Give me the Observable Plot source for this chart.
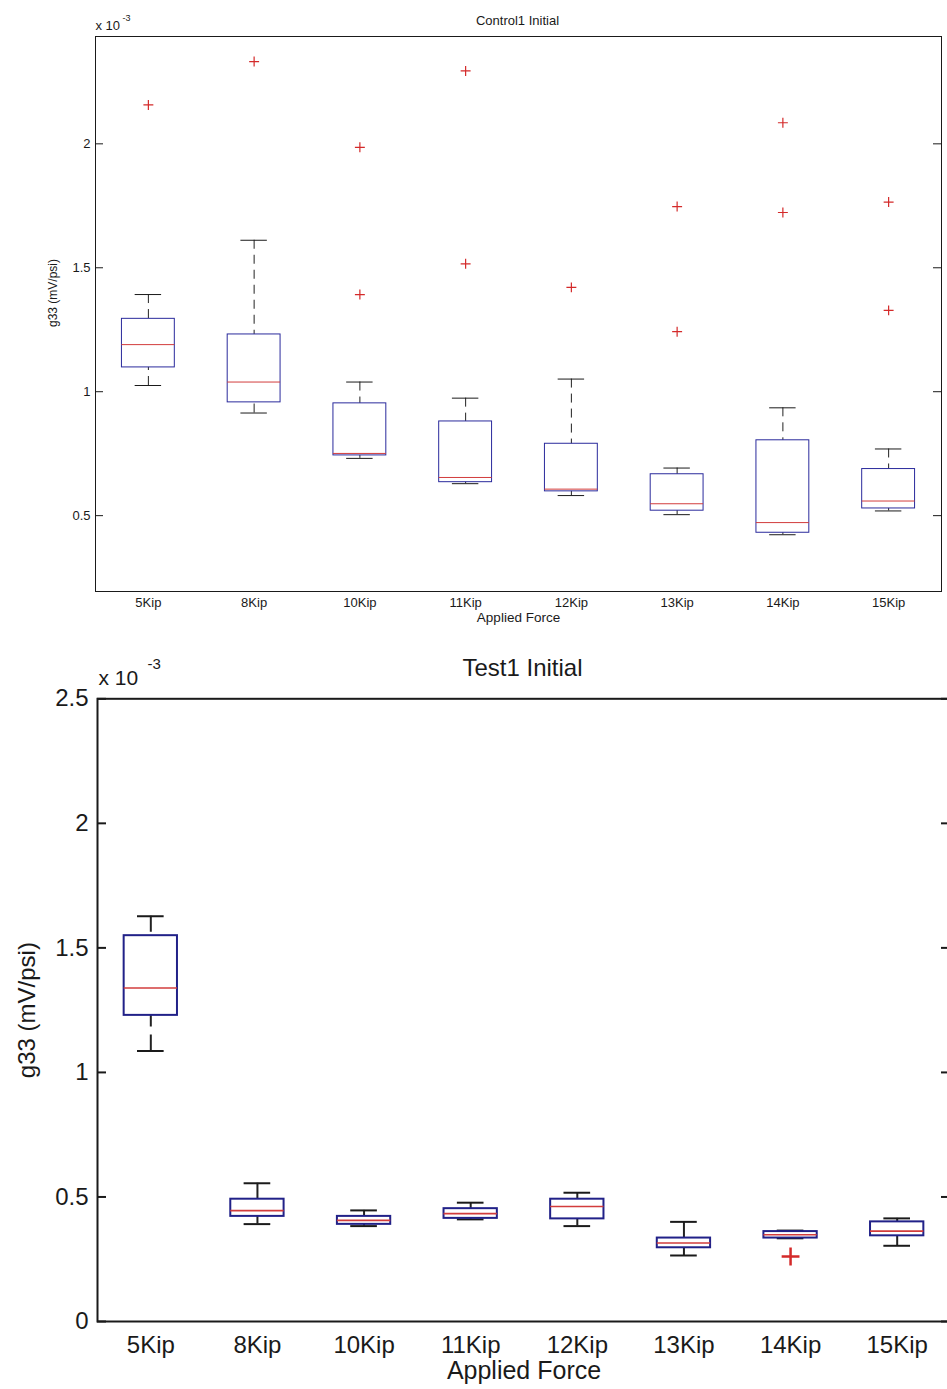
<!DOCTYPE html>
<html>
<head>
<meta charset="utf-8">
<script src="https://cdn.jsdelivr.net/npm/d3@7"></script>
<script src="https://cdn.jsdelivr.net/npm/@observablehq/plot@0.6"></script>
<style>
  html, body { margin: 0; padding: 0; background: #fff; overflow: hidden; width: 947px; height: 1389px; }
  #page { position: relative; width: 960px; height: 1389px; }
  .panel { position: absolute; left: 0; width: 960px; }
</style>
</head>
<body>
<div id="page">
  <div id="control" class="panel" style="top:0"></div>
  <div id="test" class="panel" style="top:630px"></div>
</div>
<script>
// Load steps shared by both panels
const categories = ["5Kip", "8Kip", "10Kip", "11Kip", "12Kip", "13Kip", "14Kip", "15Kip"];

// Control1 Initial — g33 in units of 1e-3 mV/psi
const controlLower   = [1.025, 0.914, 0.731, 0.629, 0.581, 0.504, 0.423, 0.519];
const controlQ1      = [1.098, 0.957, 0.743, 0.635, 0.598, 0.520, 0.431, 0.529];
const controlMedian  = [1.190, 1.039, 0.751, 0.654, 0.607, 0.548, 0.472, 0.559];
const controlQ3      = [1.294, 1.231, 0.953, 0.880, 0.790, 0.667, 0.804, 0.688];
const controlUpper   = [1.392, 1.611, 1.039, 0.974, 1.051, 0.692, 0.935, 0.769];
const controlOutliers = [[2.157], [2.332], [1.986, 1.392], [2.294, 1.516], [1.421], [1.747, 1.242], [2.085, 1.723], [1.765, 1.328]];
const controlTicks = [0.5, 1, 1.5, 2];

// Test1 Initial — g33 in units of 1e-3 mV/psi
const testLower   = [1.086, 0.391, 0.383, 0.410, 0.383, 0.265, 0.334, 0.304];
const testQ1      = [1.229, 0.422, 0.390, 0.414, 0.412, 0.296, 0.335, 0.344];
const testMedian  = [1.339, 0.445, 0.406, 0.433, 0.462, 0.315, 0.348, 0.363];
const testQ3      = [1.549, 0.491, 0.422, 0.453, 0.491, 0.335, 0.361, 0.400];
const testUpper   = [1.627, 0.555, 0.446, 0.477, 0.517, 0.400, 0.365, 0.414];
const testOutliers = [[], [], [], [], [], [], [0.261], []];
const testTicks = [0, 0.5, 1, 1.5, 2, 2.5];

const BOX_HALF = 0.25;   // half box width, in category units
const CAP_HALF = 0.125;  // half whisker-cap width

function boxPanel(cfg) {
  const {title, lower, q1, median, q3, upper, outliers, yDomain, yTicks, width, height, m, s} = cfg;
  const rows = categories.map((c, i) => ({
    cat: c, pos: i + 1, lo: lower[i], q1: q1[i], med: median[i], q3: q3[i], hi: upper[i]
  }));
  const outs = outliers.flatMap((vals, i) => vals.map(v => ({pos: i + 1, v})));
  const plotW = width - m.left - m.right;
  const label = (txt, opts) => Plot.text([txt], {text: d => d, fill: "#1a1a1a", lineAnchor: "middle", ...opts});

  return Plot.plot({
    width, height,
    marginLeft: m.left, marginRight: m.right, marginTop: m.top, marginBottom: m.bottom,
    x: {domain: [0.5, 8.5]},
    y: {domain: yDomain},
    style: {fontFamily: "'Liberation Sans', Arial, sans-serif", color: "#1a1a1a", background: "transparent", overflow: "visible"},
    marks: [
      Plot.frame({stroke: "#1a1a1a", strokeWidth: s.frame}),
      // inward tick marks on both vertical edges
      Plot.tickY(yTicks, {y: d => d, insetRight: plotW - s.tick, stroke: "#1a1a1a", strokeWidth: s.frame}),
      Plot.tickY(yTicks, {y: d => d, insetLeft: plotW - s.tick, stroke: "#1a1a1a", strokeWidth: s.frame}),
      Plot.axisY({ticks: yTicks, tickSize: 0, tickPadding: s.yPad, tickFormat: d => String(d), fontSize: s.tickFont, label: null}),
      Plot.axisX({ticks: d3.range(1, categories.length + 1), tickSize: 0, tickPadding: s.xPad,
                  tickFormat: i => categories[i - 1], fontSize: s.tickFont, label: null}),
      // whiskers
      Plot.ruleX(rows, {x: "pos", y1: "hi", y2: "q3", stroke: "#222", strokeWidth: s.whisker, strokeDasharray: s.dash}),
      Plot.ruleX(rows, {x: "pos", y1: "lo", y2: "q1", stroke: "#222", strokeWidth: s.whisker, strokeDasharray: s.dash}),
      Plot.ruleY(rows, {y: "hi", x1: d => d.pos - CAP_HALF, x2: d => d.pos + CAP_HALF, stroke: "#1a1a1a", strokeWidth: s.whisker}),
      Plot.ruleY(rows, {y: "lo", x1: d => d.pos - CAP_HALF, x2: d => d.pos + CAP_HALF, stroke: "#1a1a1a", strokeWidth: s.whisker}),
      // interquartile boxes and medians
      Plot.rect(rows, {x1: d => d.pos - BOX_HALF, x2: d => d.pos + BOX_HALF, y1: "q1", y2: "q3",
                       fill: "none", stroke: s.boxColor, strokeWidth: s.box}),
      Plot.ruleY(rows, {y: "med", x1: d => d.pos - BOX_HALF, x2: d => d.pos + BOX_HALF, stroke: "#d23c3c", strokeWidth: s.median}),
      // outliers
      Plot.dot(outs, {x: "pos", y: "v", symbol: "plus", r: s.plusR, stroke: "#d42a2a", strokeWidth: s.plusW}),
      // annotations
      label(title, {frameAnchor: "top", textAnchor: "middle", dx: s.titleDx, dy: s.titleDy, fontSize: s.titleFont}),
      label("Applied Force", {frameAnchor: "bottom", textAnchor: "middle", dy: s.xLabelDy, fontSize: s.labelFont}),
      label("g33 (mV/psi)", {frameAnchor: "left", textAnchor: "middle", rotate: -90, dx: s.yLabelDx, dy: s.yLabelDy, fontSize: s.yLabelFont}),
      label("x 10", {frameAnchor: "top-left", textAnchor: "start", dx: s.expDx, dy: s.expDy, fontSize: s.expFont}),
      label("-3", {frameAnchor: "top-left", textAnchor: "start", dx: s.supDx, dy: s.supDy, fontSize: s.supFont})
    ]
  });
}

document.getElementById("control").append(boxPanel({
  title: "Control1 Initial",
  lower: controlLower, q1: controlQ1, median: controlMedian, q3: controlQ3, upper: controlUpper,
  outliers: controlOutliers, yDomain: [0.194, 2.433], yTicks: controlTicks,
  width: 960, height: 630, m: {left: 95, right: 19, top: 36, bottom: 39},
  s: {frame: 1, tick: 8, yPad: 5, xPad: 6, tickFont: 13, box: 1, boxColor: "#2a2a9c", median: 1, whisker: 1, dash: "9,6",
      plusR: 3.3, plusW: 1.2, titleDx: -1, titleDy: -15.3, titleFont: 13, labelFont: 13.5, xLabelDy: 26,
      yLabelDx: -42, yLabelDy: -21, yLabelFont: 12, expDx: 0, expDy: -10.7, expFont: 13,
      supDx: 27, supDy: -18.5, supFont: 9}
}));

document.getElementById("test").append(boxPanel({
  title: "Test1 Initial",
  lower: testLower, q1: testQ1, median: testMedian, q3: testQ3, upper: testUpper,
  outliers: testOutliers, yDomain: [0, 2.5], yTicks: testTicks,
  width: 960, height: 759, m: {left: 97, right: 10, top: 68.3, bottom: 68},
  s: {frame: 2, tick: 9, yPad: 9, xPad: 14, tickFont: 24, box: 2, boxColor: "#212188", median: 1.6, whisker: 2, dash: "16,8",
      plusR: 5.8, plusW: 2.5, titleDx: -1.5, titleDy: -30.3, titleFont: 24, labelFont: 25, xLabelDy: 49,
      yLabelDx: -70, yLabelDy: 0, yLabelFont: 24, expDx: 1, expDy: -20.3, expFont: 21,
      supDx: 50, supDy: -34.3, supFont: 15}
}));
</script>
</body>
</html>
